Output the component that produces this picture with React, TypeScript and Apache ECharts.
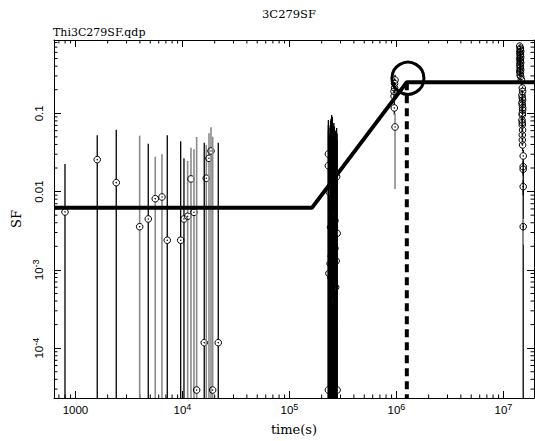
import React, { useEffect, useRef } from "react";
import * as echarts from "echarts";

// ---- axis ranges (time in s, structure function SF) ----
const X_MIN = 630;
const X_MAX = 1.93e7;
const Y_MIN = 2.31e-5;
const Y_MAX = 0.863;

// ---- observed points: [time, SF, upper error end, lower error end, grey bar (1) or black (0)] ----
const epoch1Points = [
  [798, 0.00549, 0.0225, 1e-6, 0],
  [1598, 0.0256, 0.0524, 1e-6, 0],
  [2405, 0.013, 0.0617, 1e-6, 0],
  [3981, 0.00356, 0.0518, 1e-6, 1],
  [4789, 0.00447, 0.0409, 1e-6, 0],
  [5569, 0.00811, 0.0279, 1e-6, 1],
  [6433, 0.00853, 0.03, 1e-6, 1],
  [7211, 0.00239, 0.0524, 1e-6, 0],
  [9620, 0.00239, 0.0439, 1e-6, 0],
  [10330, 0.00447, 0.0266, 1e-6, 0],
  [11180, 0.00484, 0.0246, 1e-6, 1],
  [12010, 0.0145, 0.0364, 1e-6, 1],
  [12810, 0.00544, 0.0347, 1e-6, 1],
  [13570, 2.92e-5, 0.0498, 1e-6, 1],
  [15980, 1.175e-4, 0.0421, 1e-6, 0],
  [16690, 0.0148, 0.0394, 1e-6, 1],
  [17690, 0.0266, 0.0555, 1e-6, 1],
  [18470, 0.033, 0.0662, 1e-6, 1],
  [19150, 2.92e-5, 0.0503, 1e-6, 1],
  [21610, 1.175e-4, 0.0421, 1e-6, 0],
];

const epoch2Points = [
  [2.48e5, 0.0494, 0.095, 1e-6, 0],
  [2.31e5, 0.0302, 0.082, 1e-6, 0],
  [2.31e5, 0.0214, 0.0708, 1e-6, 0],
  [2.76e5, 0.0155, 0.0649, 1e-6, 0],
  [2.36e5, 0.0098, 0.0528, 1e-6, 0],
  [2.57e5, 0.00503, 0.0612, 1e-6, 0],
  [2.66e5, 0.00425, 0.05, 1e-6, 0],
  [2.79e5, 0.00293, 0.045, 1e-6, 0],
  [2.66e5, 0.00189, 0.04, 1e-6, 0],
  [2.31e5, 2.92e-5, 0.06, 1e-6, 0],
  [2.79e5, 2.92e-5, 0.055, 1e-6, 0],
  [2.44e5, 0.0008, 0.085, 1e-6, 0],
  [2.52e5, 0.0004, 0.09, 1e-6, 0],
  [2.6e5, 0.0002, 0.075, 1e-6, 0],
  [2.4e5, 0.0012, 0.07, 1e-6, 0],
  [2.7e5, 0.0006, 0.06, 1e-6, 0],
  [2.34e5, 0.0009, 0.065, 1e-6, 0],
  [2.46e5, 0.0015, 0.078, 1e-6, 0],
  [2.55e5, 0.0011, 0.07, 1e-6, 0],
  [2.63e5, 0.0007, 0.068, 1e-6, 0],
  [2.73e5, 0.0013, 0.058, 1e-6, 0],
  [2.5e5, 0.0025, 0.088, 1e-6, 0],
  [2.42e5, 0.0035, 0.08, 1e-6, 0],
];

const epoch3Points = [
  [9.7e5, 0.266, 0.31, 0.23, 0],
  [9.6e5, 0.24, 0.28, 0.2, 0],
  [9.6e5, 0.211, 0.25, 0.18, 0],
  [9.5e5, 0.19, 0.22, 0.16, 0],
  [9.5e5, 0.166, 0.2, 0.14, 0],
  [9.55e5, 0.117, 0.14, 0.095, 0],
  [9.7e5, 0.0668, 0.1, 0.0108, 1],
];

const epoch4Points = [
  [1.42e7, 0.72, 0.8, 0.64, 0],
  [1.44e7, 0.68, 0.76, 0.6, 0],
  [1.43e7, 0.65, 0.73, 0.57, 0],
  [1.45e7, 0.62, 0.7, 0.55, 0],
  [1.42e7, 0.6, 0.68, 0.53, 0],
  [1.44e7, 0.57, 0.65, 0.5, 0],
  [1.43e7, 0.55, 0.62, 0.48, 0],
  [1.45e7, 0.52, 0.59, 0.46, 0],
  [1.42e7, 0.5, 0.57, 0.44, 0],
  [1.44e7, 0.48, 0.55, 0.42, 0],
  [1.43e7, 0.46, 0.52, 0.4, 0],
  [1.45e7, 0.44, 0.5, 0.38, 0],
  [1.42e7, 0.42, 0.48, 0.37, 0],
  [1.44e7, 0.4, 0.46, 0.35, 0],
  [1.43e7, 0.38, 0.44, 0.33, 0],
  [1.45e7, 0.36, 0.41, 0.31, 0],
  [1.42e7, 0.345, 0.4, 0.3, 0],
  [1.44e7, 0.33, 0.38, 0.29, 0],
  [1.43e7, 0.31, 0.36, 0.27, 0],
  [1.45e7, 0.295, 0.34, 0.26, 0],
  [1.47e7, 0.27, 0.31, 0.23, 0],
  [1.5e7, 0.21, 0.24, 0.18, 0],
  [1.51e7, 0.19, 0.22, 0.165, 0],
  [1.49e7, 0.171, 0.2, 0.15, 0],
  [1.5e7, 0.158, 0.18, 0.14, 0],
  [1.51e7, 0.148, 0.17, 0.13, 0],
  [1.49e7, 0.136, 0.16, 0.12, 0],
  [1.5e7, 0.128, 0.15, 0.11, 0],
  [1.51e7, 0.118, 0.14, 0.1, 0],
  [1.51e7, 0.11, 0.13, 0.095, 0],
  [1.5e7, 0.1, 0.12, 0.087, 0],
  [1.5e7, 0.095, 0.11, 0.08, 0],
  [1.49e7, 0.082, 0.095, 0.07, 0],
  [1.5e7, 0.076, 0.089, 0.066, 0],
  [1.5e7, 0.0708, 0.083, 0.06, 0],
  [1.51e7, 0.0612, 0.072, 0.052, 0],
  [1.5e7, 0.0528, 0.062, 0.045, 0],
  [1.5e7, 0.0456, 0.054, 0.039, 0],
  [1.51e7, 0.0394, 0.047, 0.033, 0],
  [1.53e7, 0.0285, 0.034, 1e-6, 0],
  [1.53e7, 0.0208, 0.025, 0.017, 0],
  [1.53e7, 0.0193, 0.023, 0.016, 0],
  [1.53e7, 0.01155, 0.014, 0.009, 0],
  [1.53e7, 0.00356, 0.0045, 0.0021, 1],
];

// ---- model (broken power law) ----
const modelTime = [630, 1.62e5, 1.25e6, 1.93e7];
const modelSF = [0.0062, 0.0062, 0.25, 0.25];

// ---- break marker ----
const breakTime = 1.25e6;
const breakSF = 0.25;
const breakCircle = [1.28e6, 0.28];

// ---- minor tick values ----
const xMinorTicks = [
  700, 800, 900,
  2000, 3000, 4000, 5000, 6000, 7000, 8000, 9000,
  20000, 30000, 40000, 50000, 60000, 70000, 80000, 90000,
  2e5, 3e5, 4e5, 5e5, 6e5, 7e5, 8e5, 9e5,
  2e6, 3e6, 4e6, 5e6, 6e6, 7e6, 8e6, 9e6,
];
const yMinorTicks = [
  3e-5, 4e-5, 5e-5, 6e-5, 7e-5, 8e-5, 9e-5,
  2e-4, 3e-4, 4e-4, 5e-4, 6e-4, 7e-4, 8e-4, 9e-4,
  2e-3, 3e-3, 4e-3, 5e-3, 6e-3, 7e-3, 8e-3, 9e-3,
  0.02, 0.03, 0.04, 0.05, 0.06, 0.07, 0.08, 0.09,
  0.2, 0.3, 0.4, 0.5, 0.6, 0.7, 0.8,
];

const TICK_FONT = "Liberation Sans";
const SERIF = "DejaVu Serif";

const richLabel = {
  s: { fontSize: 9, lineHeight: 9, verticalAlign: "top", fontFamily: TICK_FONT, color: "#000" },
};

function xLabel(v: number) {
  const e = Math.round(Math.log10(v));
  if (e === 3) return "1000";
  return `10{s|${e}}`;
}
function yLabel(v: number) {
  const e = Math.round(Math.log10(v));
  if (e === -1) return "0.1";
  if (e === -2) return "0.01";
  return `10{s|-${-e}}`;
}

function renderPoint(params: any, api: any) {
  const cs = params.coordSys;
  const x = api.value(0);
  const y = api.value(1);
  const hi = api.value(2);
  const lo = api.value(3);
  const gray = api.value(4);
  const p = api.coord([x, y]);
  const top = Math.max(api.coord([x, hi])[1], cs.y);
  const bot = Math.min(api.coord([x, lo])[1], cs.y + cs.height);
  const r = 3.3;
  const col = gray ? "#8a8a8a" : "#000";
  const w = gray ? 1.6 : 1.3;
  const children: any[] = [];
  if (top < p[1] - r) {
    children.push({ type: "line", shape: { x1: p[0], y1: top, x2: p[0], y2: p[1] - r }, style: { stroke: col, lineWidth: w } });
  }
  if (bot > p[1] + r) {
    children.push({ type: "line", shape: { x1: p[0], y1: p[1] + r, x2: p[0], y2: bot }, style: { stroke: col, lineWidth: w } });
  }
  children.push({ type: "circle", shape: { cx: p[0], cy: p[1], r }, style: { fill: "none", stroke: "#000", lineWidth: 1 } });
  children.push({ type: "circle", shape: { cx: p[0], cy: p[1], r: 0.7 }, style: { fill: "#000" } });
  return { type: "group", children };
}

function renderXMinor(params: any, api: any) {
  const cs = params.coordSys;
  const px = api.coord([api.value(0), api.value(1)])[0];
  const b = cs.y + cs.height;
  return {
    type: "group",
    children: [
      { type: "line", shape: { x1: px, y1: b, x2: px, y2: b - 3.5 }, style: { stroke: "#000", lineWidth: 1 } },
      { type: "line", shape: { x1: px, y1: cs.y, x2: px, y2: cs.y + 3.5 }, style: { stroke: "#000", lineWidth: 1 } },
    ],
  };
}

function renderYMinor(params: any, api: any) {
  const cs = params.coordSys;
  const py = api.coord([api.value(0), api.value(1)])[1];
  const r = cs.x + cs.width;
  return {
    type: "group",
    children: [
      { type: "line", shape: { x1: cs.x, y1: py, x2: cs.x + 3.5, y2: py }, style: { stroke: "#000", lineWidth: 1 } },
      { type: "line", shape: { x1: r, y1: py, x2: r - 3.5, y2: py }, style: { stroke: "#000", lineWidth: 1 } },
    ],
  };
}

export default function App() {
  const ref = useRef<HTMLDivElement>(null);
  useEffect(() => {
    const chart = echarts.init(ref.current!, null, { renderer: "svg" });
    const allPoints = [...epoch1Points, ...epoch2Points, ...epoch3Points, ...epoch4Points];
    const axisLine = { show: true, lineStyle: { color: "#000", width: 1 } };
    const majorTick = { show: true, inside: true, length: 7, lineStyle: { color: "#000", width: 1 } };
    const labelBase = { fontSize: 11.5, fontFamily: TICK_FONT, color: "#000", lineHeight: 16, rich: richLabel };
    const option: any = {
      animation: false,
      backgroundColor: "#fff",
      textStyle: { fontFamily: TICK_FONT },
      grid: { left: 54, right: 1, top: 40, bottom: 43, containLabel: false },
      graphic: [
        { type: "text", x: 289, y: 14, style: { text: "3C279SF", align: "center", verticalAlign: "middle", fontSize: 11.5, fontFamily: SERIF, fill: "#000" } },
        { type: "text", x: 53, y: 32, style: { text: "Thi3C279SF.qdp", align: "left", verticalAlign: "middle", fontSize: 11, fontFamily: SERIF, fill: "#000" } },
      ],
      xAxis: [
        {
          type: "log", logBase: 10, min: X_MIN, max: X_MAX, position: "bottom",
          axisLine, axisTick: majorTick, splitLine: { show: false },
          axisLabel: { ...labelBase, formatter: xLabel, margin: 4, showMinLabel: false, showMaxLabel: false },
          name: "time(s)", nameLocation: "middle", nameGap: 22,
          nameTextStyle: { fontFamily: SERIF, fontSize: 13, color: "#000" },
        },
        {
          type: "log", logBase: 10, min: X_MIN, max: X_MAX, position: "top",
          axisLine, axisTick: majorTick, splitLine: { show: false }, axisLabel: { show: false },
        },
      ],
      yAxis: [
        {
          type: "log", logBase: 10, min: Y_MIN, max: Y_MAX, position: "left",
          axisLine, axisTick: majorTick, splitLine: { show: false },
          axisLabel: { ...labelBase, formatter: yLabel, rotate: 90, margin: 7, showMinLabel: false, showMaxLabel: false },
          name: "SF", nameLocation: "middle", nameGap: 31, nameRotate: 90,
          nameTextStyle: { fontFamily: SERIF, fontSize: 13, color: "#000" },
        },
        {
          type: "log", logBase: 10, min: Y_MIN, max: Y_MAX, position: "right",
          axisLine, axisTick: majorTick, splitLine: { show: false }, axisLabel: { show: false },
        },
      ],
      series: [
        {
          type: "custom", xAxisIndex: 0, yAxisIndex: 0, silent: true, clip: true, z: 2,
          renderItem: renderXMinor, data: xMinorTicks.map((v) => [v, 0.01]),
        },
        {
          type: "custom", xAxisIndex: 0, yAxisIndex: 0, silent: true, clip: true, z: 2,
          renderItem: renderYMinor, data: yMinorTicks.map((v) => [1000, v]),
        },
        {
          type: "custom", xAxisIndex: 0, yAxisIndex: 0, silent: true, clip: true, z: 3,
          renderItem: renderPoint, data: allPoints,
        },
        {
          type: "line", xAxisIndex: 0, yAxisIndex: 0, silent: true, z: 5, symbol: "none",
          data: [[breakTime, breakSF], [breakTime, Y_MIN]],
          lineStyle: { color: "#000", width: 4, type: [8, 5] },
        },
        {
          type: "line", xAxisIndex: 0, yAxisIndex: 0, silent: true, z: 6, symbol: "none",
          data: modelTime.map((t, i) => [t, modelSF[i]]),
          lineStyle: { color: "#000", width: 4 },
        },
        {
          type: "scatter", xAxisIndex: 0, yAxisIndex: 0, silent: true, z: 7,
          symbol: "circle", symbolSize: 32,
          data: [breakCircle],
          itemStyle: { color: "rgba(0,0,0,0)", borderColor: "#000", borderWidth: 3, opacity: 1 },
        },
      ],
    };
    chart.setOption(option);
    return () => chart.dispose();
  }, []);
  return (
    <div
      ref={ref}
      style={{ position: "absolute", left: 0, top: 0, width: 535, height: 441, background: "#fff" }}
    />
  );
}
